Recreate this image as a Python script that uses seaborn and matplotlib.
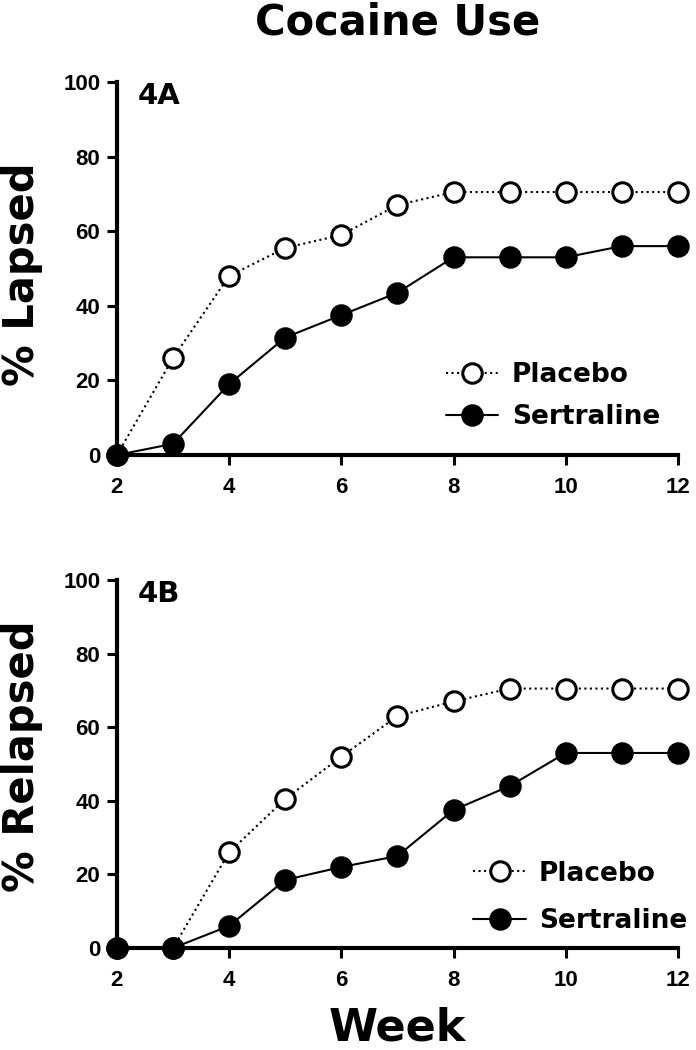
import pandas as pd
import matplotlib.pyplot as plt
import seaborn as sns

# weeks and % values
weeks = [2, 3, 4, 5, 6, 7, 8, 9, 10, 11, 12]
lapsed_placebo = [0, 26, 48, 55.5, 59, 67, 70.5, 70.5, 70.5, 70.5, 70.5]
lapsed_sertraline = [0, 3, 19, 31.5, 37.5, 43.5, 53, 53, 53, 56, 56]
relapsed_placebo = [0, 0, 26, 40.5, 52, 63, 67, 70.5, 70.5, 70.5, 70.5]
relapsed_sertraline = [0, 0, 6, 18.5, 22, 25, 37.5, 44, 53, 53, 53]
x_ticks = [2, 4, 6, 8, 10, 12]
y_ticks = [0, 20, 40, 60, 80, 100]

sns.set_style("ticks")
plt.rcParams['font.family'] = ['DejaVu Sans']
plt.rcParams['font.weight'] = 'bold'
for k in ['text.color', 'axes.labelcolor', 'xtick.color', 'ytick.color', 'axes.edgecolor']:
    plt.rcParams[k] = 'black'

fig = plt.figure(figsize=(6.96, 10.5), dpi=100)
ax_a = fig.add_axes([0.168, 1 - 455 / 1050, 0.806, 373 / 1050])
ax_b = fig.add_axes([0.168, 1 - 948 / 1050, 0.806, 368 / 1050])

panels = [
    (ax_a, lapsed_placebo, lapsed_sertraline, '% Lapsed', '4A', (0.586, 0.158), 0.6, 0.485),
    (ax_b, relapsed_placebo, relapsed_sertraline, '% Relapsed', '4B', (0.635, 0.138), 0.8, 0.52),
]

for ax, plac, sert, ylab, tag, leg_pos, lspace, ylab_y in panels:
    df_p = pd.DataFrame({'week': weeks, 'pct': plac})
    df_s = pd.DataFrame({'week': weeks, 'pct': sert})
    sns.lineplot(data=df_p, x='week', y='pct', ax=ax, color='black', linestyle=':',
                 linewidth=1.5, marker='o', markersize=14, markerfacecolor='white',
                 markeredgecolor='black', markeredgewidth=2.2, clip_on=False,
                 label='Placebo', zorder=3)
    sns.lineplot(data=df_s, x='week', y='pct', ax=ax, color='black', linestyle='-',
                 linewidth=1.5, marker='o', markersize=14, markerfacecolor='black',
                 markeredgecolor='black', markeredgewidth=2.2, clip_on=False,
                 label='Sertraline', zorder=4)
    ax.set_xlim(2, 12)
    ax.set_ylim(0, 100)
    ax.set_xticks(x_ticks)
    ax.set_yticks(y_ticks)
    ax.set_xlabel('')
    ax.set_ylabel(ylab, fontsize=30, fontweight='bold')
    ax.yaxis.set_label_coords(-0.132, ylab_y)
    sns.despine(ax=ax)
    for sp in ['left', 'bottom']:
        ax.spines[sp].set_linewidth(3)
    ax.tick_params(axis='both', width=2.2, length=7)
    ax.tick_params(axis='x', pad=9)
    ax.tick_params(axis='y', pad=5)
    for lbl in ax.get_xticklabels() + ax.get_yticklabels():
        lbl.set_fontfamily('Liberation Sans')
        lbl.set_fontweight('bold')
        lbl.set_fontsize(16)
    ax.text(0.037, 1.0, tag, transform=ax.transAxes, fontsize=21,
            fontweight='bold', va='top', ha='left')
    ax.legend(loc='center left', bbox_to_anchor=leg_pos, frameon=False,
              prop={'size': 19, 'weight': 'bold'}, handlelength=2.0,
              handletextpad=0.5, labelspacing=lspace, borderpad=0,
              borderaxespad=0)

ax_b.set_xlabel('Week', fontsize=32, fontweight='bold')
ax_b.xaxis.set_label_coords(0.5, -0.16)
fig.text(0.571, 0.979, 'Cocaine Use', ha='center', va='center', fontsize=30,
         fontweight='bold')

fig.savefig('out.png', dpi=100)
